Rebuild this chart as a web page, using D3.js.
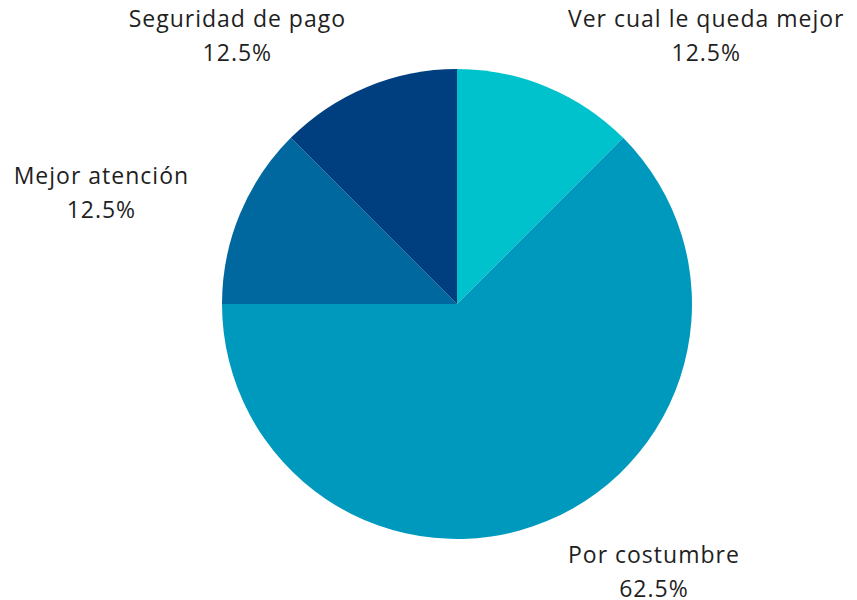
<!DOCTYPE html>
<html>
<head>
<meta charset="utf-8">
<script src="https://cdn.jsdelivr.net/npm/d3@7"></script>
<style>
  html, body { margin: 0; padding: 0; background: #ffffff; }
  svg { display: block; }
  text { font-family: "Open Sans", "Noto Sans", sans-serif; fill: #1f1f1f; letter-spacing: 1px; }
</style>
</head>
<body>
<svg id="chart" width="857" height="600"></svg>
<script>
// Motivos de elección, en el orden en que se dibujan (sentido horario desde arriba)
const categories = ["Ver cual le queda mejor", "Por costumbre", "Mejor atención", "Seguridad de pago"];
const values = [12.5, 62.5, 12.5, 12.5];
const percentLabels = ["12.5%", "62.5%", "12.5%", "12.5%"];
const colors = ["#00c2cc", "#0099be", "#00679f", "#003f7f"];

const width = 857, height = 600;
const cx = 457, cy = 304;
const radius = 235;
const labelRadius = 290;
const fontSize = 23;
const lineGap = 34;

const svg = d3.select("#chart");
const data = categories.map((c, i) => ({ name: c, value: values[i], label: percentLabels[i], color: colors[i] }));

const pie = d3.pie().value(d => d.value).sort(null);
const arc = d3.arc().innerRadius(0).outerRadius(radius);
const arcs = pie(data);

const g = svg.append("g").attr("transform", `translate(${cx},${cy})`);

g.selectAll("path.slice")
  .data(arcs)
  .join("path")
  .attr("class", "slice")
  .attr("d", arc)
  .attr("fill", d => d.data.color);

// Etiquetas: el borde interior del bloque toca el punto a labelRadius en el ángulo medio
const labels = g.selectAll("g.label")
  .data(arcs)
  .join("g")
  .attr("class", "label");

labels.each(function (d) {
  const grp = d3.select(this);
  const a = (d.startAngle + d.endAngle) / 2;
  const px = Math.sin(a) * labelRadius;
  const py = -Math.cos(a) * labelRadius;
  const t1 = grp.append("text").attr("font-size", fontSize).attr("text-anchor", "middle").text(d.data.name);
  const t2 = grp.append("text").attr("font-size", fontSize).attr("text-anchor", "middle").text(d.data.label);
  const w = Math.max(t1.node().getComputedTextLength(), t2.node().getComputedTextLength());
  const side = Math.sin(a) >= 0 ? 1 : -1;
  const x = px + side * w / 2;
  const mid = py + 8;
  t1.attr("x", x).attr("y", mid - lineGap / 2);
  t2.attr("x", x).attr("y", mid + lineGap / 2);
});
</script>
</body>
</html>
